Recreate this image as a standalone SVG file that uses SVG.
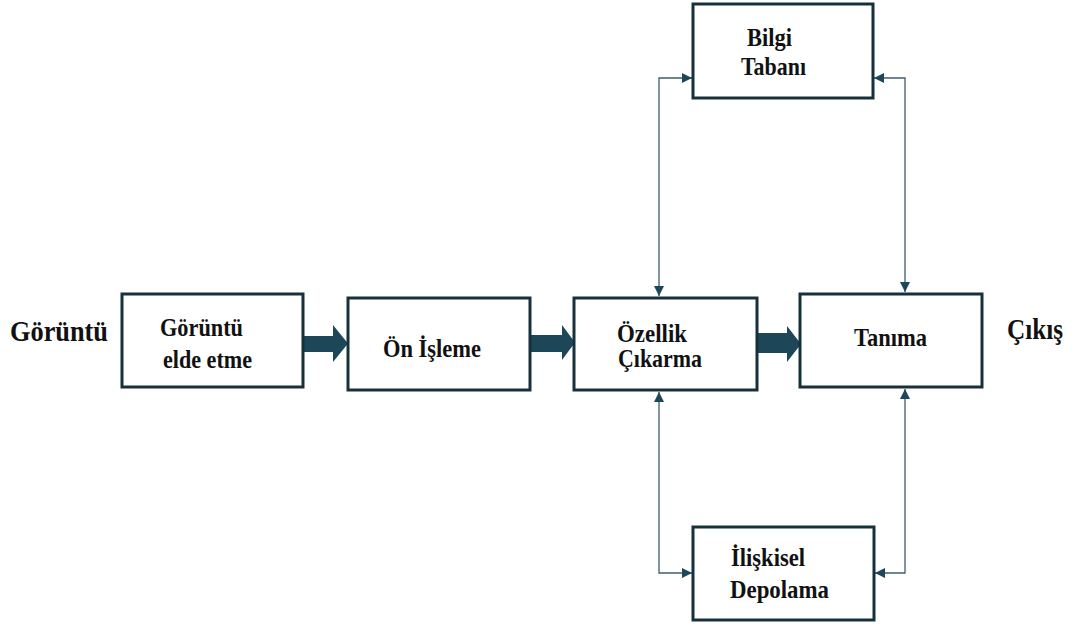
<svg xmlns="http://www.w3.org/2000/svg" width="1075" height="628" viewBox="0 0 1075 628">
<style>
.box{fill:#ffffff;stroke:#17313b;stroke-width:3}
text{font-family:'Liberation Serif','DejaVu Serif',serif;font-weight:700;font-size:25px;fill:#111}
.big{font-size:30px}
.thick{fill:#1d4759}
.thin{fill:none;stroke:#3d5d6a;stroke-width:1.3}
</style>
<defs>
<marker id="ah" viewBox="0 0 10 10" refX="10" refY="5" markerWidth="10" markerHeight="10" markerUnits="userSpaceOnUse" orient="auto-start-reverse">
<path d="M0,0 L10,5 L0,10 z" fill="#1d4759"/>
</marker>
</defs>
<rect width="1075" height="628" fill="#ffffff"/>
<g id="connectors">
<polygon class="thick" points="303,336 333,336 333,325 348,343.5 333,362 333,352 303,352"/>
<polygon class="thick" points="530,335 562,335 562,325 575,342.5 562,360 562,352 530,352"/>
<polygon class="thick" points="757,333 787,333 787,326 801,344 787,362 787,353 757,353"/>
<path class="thin" d="M659,296 L659,78 L692,78" marker-start="url(#ah)" marker-end="url(#ah)"/>
<path class="thin" d="M659,392 L659,573 L692,573" marker-start="url(#ah)" marker-end="url(#ah)"/>
<path class="thin" d="M905,292 L905,78 L874,78" marker-start="url(#ah)" marker-end="url(#ah)"/>
<path class="thin" d="M905,389 L905,573 L875,573" marker-start="url(#ah)" marker-end="url(#ah)"/>
</g>
<g id="label-input"><text class="big" x="10" y="341" textLength="98" lengthAdjust="spacingAndGlyphs">Görüntü</text></g>
<g id="label-output"><text class="big" x="1007" y="339" textLength="56" lengthAdjust="spacingAndGlyphs">Çıkış</text></g>
<g id="n1"><rect class="box" x="122" y="294" width="181" height="93"/>
<text x="160" y="336" textLength="83" lengthAdjust="spacingAndGlyphs">Görüntü</text><text x="163" y="368" textLength="89" lengthAdjust="spacingAndGlyphs">elde etme</text></g>
<g id="n2"><rect class="box" x="348" y="298" width="182" height="92"/>
<text x="383" y="357" textLength="98" lengthAdjust="spacingAndGlyphs">Ön İşleme</text></g>
<g id="n3"><rect class="box" x="574" y="298" width="183" height="92"/>
<text x="617" y="342" textLength="70" lengthAdjust="spacingAndGlyphs">Özellik</text><text x="618" y="367" textLength="84" lengthAdjust="spacingAndGlyphs">Çıkarma</text></g>
<g id="n4"><rect class="box" x="800" y="294" width="182" height="93"/>
<text x="854" y="346" textLength="73" lengthAdjust="spacingAndGlyphs">Tanıma</text></g>
<g id="n5"><rect class="box" x="693" y="4" width="180" height="94"/>
<text x="747" y="46" textLength="45" lengthAdjust="spacingAndGlyphs">Bilgi</text><text x="741" y="75" textLength="65" lengthAdjust="spacingAndGlyphs">Tabanı</text></g>
<g id="n6"><rect class="box" x="693" y="527" width="181" height="93"/>
<text x="731" y="566" textLength="74" lengthAdjust="spacingAndGlyphs">İlişkisel</text><text x="730" y="598" textLength="99" lengthAdjust="spacingAndGlyphs">Depolama</text></g>
</svg>
